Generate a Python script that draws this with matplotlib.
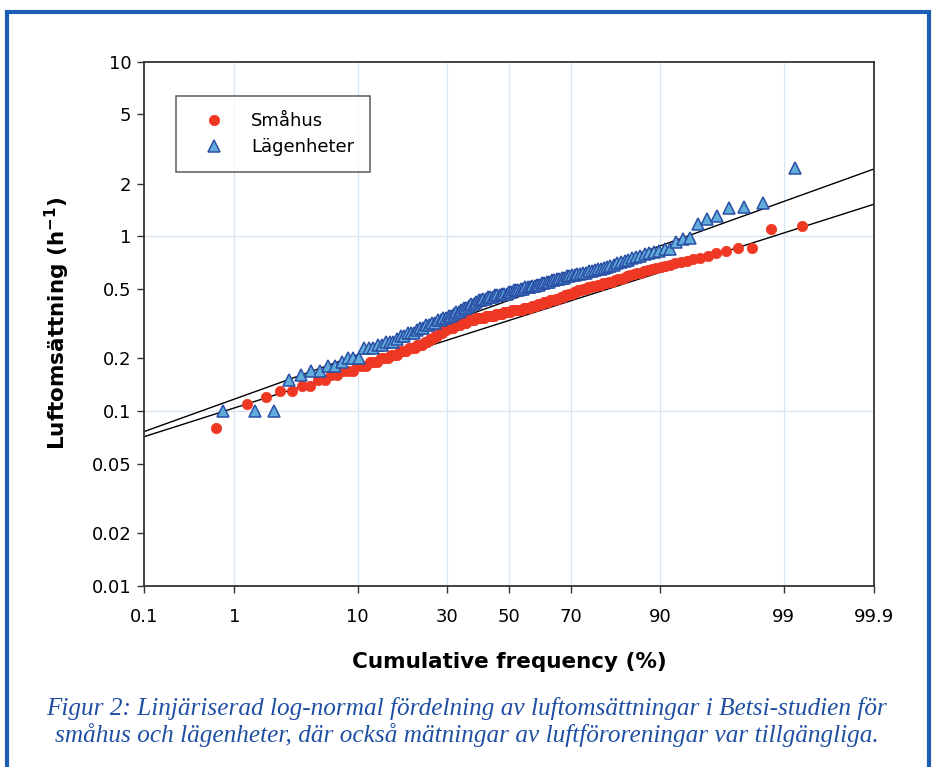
import numpy as np
import matplotlib
matplotlib.use("Agg")
import matplotlib.pyplot as plt
from matplotlib.patches import Rectangle
from statistics import NormalDist

# ==============================
# data (sorted air exchange rates, h^-1)
# ==============================
smahus = [
    0.08, 0.11, 0.12, 0.13, 0.13, 0.14, 0.14, 0.15, 0.15, 0.16,
    0.16, 0.17, 0.17, 0.17, 0.18, 0.18, 0.18, 0.19, 0.19, 0.19,
    0.20, 0.20, 0.20, 0.21, 0.21, 0.21, 0.22, 0.22, 0.22, 0.23,
    0.23, 0.23, 0.24, 0.24, 0.24, 0.25, 0.25, 0.26, 0.26, 0.27,
    0.27, 0.28, 0.28, 0.29, 0.29, 0.30, 0.30, 0.30, 0.31, 0.31,
    0.31, 0.32, 0.32, 0.32, 0.33, 0.33, 0.33, 0.33, 0.34, 0.34,
    0.34, 0.34, 0.34, 0.35, 0.35, 0.35, 0.35, 0.35, 0.36, 0.36,
    0.36, 0.36, 0.37, 0.37, 0.37, 0.37, 0.38, 0.38, 0.38, 0.38,
    0.38, 0.38, 0.39, 0.39, 0.39, 0.39, 0.40, 0.40, 0.40, 0.41,
    0.41, 0.41, 0.42, 0.42, 0.42, 0.43, 0.43, 0.43, 0.44, 0.44,
    0.45, 0.45, 0.46, 0.46, 0.47, 0.47, 0.48, 0.48, 0.49, 0.49,
    0.50, 0.50, 0.51, 0.51, 0.52, 0.52, 0.53, 0.53, 0.54, 0.54,
    0.55, 0.55, 0.56, 0.57, 0.57, 0.58, 0.59, 0.60, 0.61, 0.62,
    0.62, 0.63, 0.64, 0.65, 0.66, 0.67, 0.68, 0.69, 0.70, 0.71,
    0.72, 0.74, 0.75, 0.77, 0.80, 0.83, 0.86, 0.86, 1.10, 1.14,
]

lagenheter = [
    0.10, 0.10, 0.10, 0.15, 0.16, 0.17, 0.17, 0.18, 0.18, 0.19,
    0.20, 0.20, 0.20, 0.23, 0.23, 0.23, 0.24, 0.24, 0.25, 0.25,
    0.25, 0.26, 0.27, 0.27, 0.28, 0.28, 0.28, 0.29, 0.30, 0.30,
    0.31, 0.31, 0.32, 0.32, 0.33, 0.33, 0.34, 0.34, 0.35, 0.35,
    0.36, 0.37, 0.37, 0.38, 0.39, 0.39, 0.40, 0.41, 0.41, 0.42,
    0.43, 0.43, 0.44, 0.44, 0.45, 0.45, 0.45, 0.46, 0.46, 0.46,
    0.47, 0.47, 0.47, 0.48, 0.48, 0.49, 0.49, 0.49, 0.50, 0.50,
    0.51, 0.51, 0.51, 0.52, 0.52, 0.53, 0.53, 0.54, 0.54, 0.55,
    0.55, 0.56, 0.56, 0.57, 0.57, 0.58, 0.58, 0.59, 0.59, 0.60,
    0.60, 0.61, 0.61, 0.62, 0.62, 0.63, 0.63, 0.64, 0.65, 0.65,
    0.66, 0.67, 0.68, 0.69, 0.70, 0.71, 0.72, 0.73, 0.75, 0.76,
    0.77, 0.79, 0.80, 0.81, 0.83, 0.85, 0.85, 0.93, 0.96, 0.98,
    1.17, 1.26, 1.31, 1.46, 1.47, 1.55, 2.47,
]

# log-normal fits: geometric mean, geometric standard deviation
fit_smahus = (0.330, 1.642)
fit_lagenheter = (0.4305, 1.751)

x_ticks = [0.1, 1, 10, 30, 50, 70, 90, 99, 99.9]
x_ticklabels = ["0.1", "1", "10", "30", "50", "70", "90", "99", "99.9"]
y_ticks = [0.01, 0.02, 0.05, 0.1, 0.2, 0.5, 1, 2, 5, 10]
y_ticklabels = ["0.01", "0.02", "0.05", "0.1", "0.2", "0.5", "1", "2", "5", "10"]

caption = ("Figur 2: Linjäriserad log-normal fördelning av luftomsättningar i Betsi-studien för\n"
           "småhus och lägenheter, där också mätningar av luftföroreningar var tillgängliga.")


# ==============================
# probit scale for the x axis
# ==============================
_nd = NormalDist()
_ppf = np.vectorize(_nd.inv_cdf, otypes=[float])
_cdf = np.vectorize(_nd.cdf, otypes=[float])


def probit_fwd(p):
    p = np.clip(np.asarray(p, dtype=float) / 100.0, 1e-9, 1 - 1e-9)
    return _ppf(p)


def probit_inv(z):
    return _cdf(np.asarray(z, dtype=float)) * 100.0


def positions(vals):
    n = len(vals)
    return np.arange(1, n + 1) / (n + 1) * 100.0


fig = plt.figure(figsize=(9.34, 7.67), dpi=100)
ax = fig.add_axes([144 / 934, 181.3 / 767, 730 / 934, 524 / 767])

ax.set_xscale("function", functions=(probit_fwd, probit_inv))
ax.set_yscale("log")
ax.set_xlim(0.1, 99.9)
ax.set_ylim(0.01, 10)

# grid
grid_c = "#d6e6f2"
for xv in x_ticks[1:-1]:
    ax.axvline(xv, color=grid_c, lw=0.9, zorder=0)
for yv in [0.1, 1]:
    ax.axhline(yv, color=grid_c, lw=0.9, zorder=0)

# fitted lines
p_line = np.array([0.1, 50, 99.9])
for gm, gsd in [fit_lagenheter, fit_smahus]:
    ax.plot(p_line, gm * gsd ** probit_fwd(p_line), color="black", lw=1.0, zorder=2)

ax.plot(positions(smahus), smahus, "o", ms=7.5, color="#ef3823", mec="#ef3823",
        mew=0.5, label="Småhus", zorder=3)
ax.plot(positions(lagenheter), lagenheter, "^", ms=8.5, color="#62acd9", mec="#2a4fa6",
        mew=1.1, label="Lägenheter", zorder=4)

ax.set_xticks(x_ticks)
ax.set_xticklabels(x_ticklabels)
ax.set_yticks(y_ticks)
ax.set_yticklabels(y_ticklabels)
ax.minorticks_off()
ax.tick_params(axis="both", which="major", direction="out", length=5, width=1,
               color="#333333", labelsize=13, pad=4)
ax.tick_params(axis="x", pad=11)
for sp in ax.spines.values():
    sp.set_color("#333333")
    sp.set_linewidth(1.3)

ax.set_xlabel("Cumulative frequency (%)", fontsize=15.5, fontweight="bold", labelpad=19)
ax.set_ylabel("Luftomsättning (h$^{\\mathbf{-1}}$)", fontsize=15.5, fontweight="bold", labelpad=14)

leg = ax.legend(loc="upper left", bbox_to_anchor=(0.0438, 0.935), borderaxespad=0,
                fancybox=False, frameon=True, edgecolor="#333333", fontsize=13,
                handlelength=2.4, handletextpad=0.85, borderpad=0.9, labelspacing=0.45)
leg.get_frame().set_linewidth(1.1)

# caption and blue frame
fig.text(0.5, 45 / 767, caption, ha="center", va="center", color="#1f4fa3",
         fontsize=18.2, style="italic", family="Liberation Serif", linespacing=1.2)
fig.patches.append(Rectangle((7 / 934, -0.05), 922 / 934, 1.05 - 12 / 767,
                             transform=fig.transFigure, fill=False,
                             edgecolor="#1c5eb5", lw=3))

fig.savefig("out.png", dpi=100)
